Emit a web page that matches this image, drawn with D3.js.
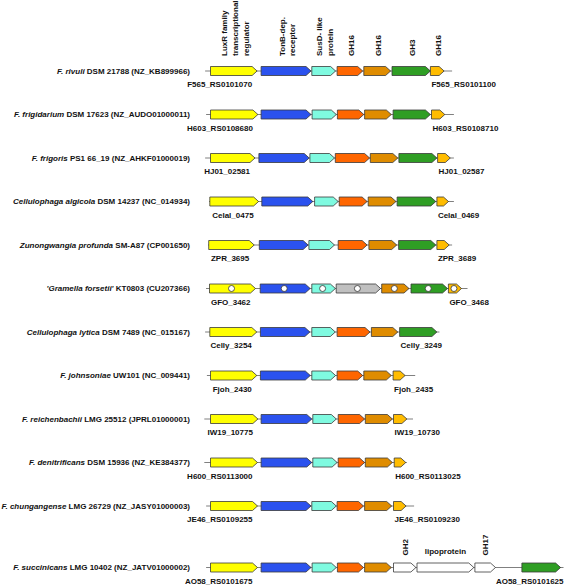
<!DOCTYPE html>
<html><head><meta charset="utf-8">
<script src="https://cdn.jsdelivr.net/npm/d3@7"></script>
<style>
body{margin:0;background:#fff}
svg{display:block}
text{font-family:"Liberation Sans",Arial,Helvetica,sans-serif;font-weight:bold;font-size:8px;fill:#111}
</style>
</head><body>
<svg id="c" width="567" height="587"></svg>
<script>
// ---- data ----
const speciesItalic = ["F. rivuli","F. frigidarium","F. frigoris","Cellulophaga algicola","Zunongwangia profunda","'Gramella forsetii'","Cellulophaga lytica","F. johnsoniae","F. reichenbachii","F. denitrificans","F. chungangense","F. succinicans"];
const speciesRest = [" DSM 21788 (NZ_KB899966)"," DSM 17623 (NZ_AUDO01000011)"," PS1 66_19 (NZ_AHKF01000019)"," DSM 14237 (NC_014934)"," SM-A87 (CP001650)"," KT0803 (CU207366)"," DSM 7489 (NC_015167)"," UW101 (NC_009441)"," LMG 25512 (JPRL01000001)"," DSM 15936 (NZ_KE384377)"," LMG 26729 (NZ_JASY01000003)"," LMG 10402 (NZ_JATV01000002)"];
const leftTags = ["F565_RS0101070","H603_RS0108680","HJ01_02581","Celal_0475","ZPR_3695","GFO_3462","Celly_3254","Fjoh_2430","IW19_10775","H600_RS0113000","JE46_RS0109255","AO58_RS0101675"];
const rightTags = ["F565_RS0101100","H603_RS0108710","HJ01_02587","Celal_0469","ZPR_3689","GFO_3468","Celly_3249","Fjoh_2435","IW19_10730","H600_RS0113025","JE46_RS0109230","AO58_RS0101625"];

// contig line extent per locus (relative position units)
const lineStart = [5.1,6.1,5.1,9,8,6,5.1,6.9,4.3,4.3,6.1,6.1];
const lineEnd   = [252.1,253.9,253.9,253.9,252.1,267.5,239.4,215.2,213,206.9,214.1,363.5];

// gene kinds: L=LuxR regulator, T=TonB-dep. receptor, S=SusD-like, R=GH16 (1), O=GH16 (2), G=GH3, A=GH16 (3), X=grey, W=other (white)
const geneKind = [
  ["L","T","S","R","O","G","A"],
  ["L","T","S","R","O","G","A"],
  ["L","T","S","R","O","G","A"],
  ["L","T","S","R","O","G","A"],
  ["L","T","S","R","O","G","A"],
  ["L","T","S","X","O","G","A"],
  ["L","T","S","R","O","G"],
  ["L","T","S","R","O","A"],
  ["L","T","S","R","O","A"],
  ["L","T","S","R","O","A"],
  ["L","T","S","R","O","A"],
  ["L","T","S","R","O","W","W","W","G"]
];
const geneStart = [
  [10.5,61.1,111.8,137.1,163.8,192,230.4],
  [10.5,61.1,112.1,137.4,164.6,193.1,231.5],
  [10.5,58.9,109.9,135.3,170.3,198.9,237.6],
  [9.8,61.8,114.6,139.2,168.2,197.1,236.9],
  [8.7,59.3,108.9,138.2,168.9,198.6,236.9],
  [9.5,60.2,111.8,136.2,181.7,211,248.4],
  [9.8,60.4,111.8,137.1,171.4,199.6],
  [10.5,60.4,111.8,137.1,163.8,193.1],
  [10.5,61.1,112.8,138.2,165.3,193.5],
  [10.5,61.1,112.8,138.2,165.3,194.2],
  [10.5,61.1,111.8,137.1,164.6,193.5],
  [10.5,61.1,112.1,137.4,164.6,193.5,217,274.9,321.9]
];
const geneEnd = [
  [57.1,111,135.6,162.7,190.6,230.4,244.1],
  [57.9,111,136.3,163.8,191.3,230.4,244.8],
  [55,109.2,134.5,169.6,197.8,236.9,250.3],
  [58.6,112.8,138.2,167.1,196,235.8,248.5],
  [54.2,108.1,134.5,167.1,196.7,235.8,249.2],
  [55.5,110.2,135.4,180.6,209,247.5,261.5],
  [56.8,109.9,135.3,170,197.8,236.9],
  [56.8,110.3,135.6,162.7,191.3,205.1],
  [57.9,111.8,136.3,164.6,192.4,206.9],
  [57.5,111.8,137.1,164.6,192.4,205.8],
  [57.5,111,136.3,163.5,191.7,206.1],
  [57.5,111,136.3,163.5,191.3,215.9,273.8,295.5,360.6]
];
// loci whose genes carry a marker circle
const markedRows = [5];
// annotation labels above the first locus (one entry per gene) and the last locus
const topLabels = [["LuxR family","transcriptional","regulator"],["TonB-dep.","receptor"],["SusD- like","protein"],["GH16"],["GH16"],["GH3"],["GH16"]];
const bottomLabels = [null,null,null,null,null,"GH2","lipoprotein","GH17",null];

const kinds = ["L","T","S","R","O","G","A","X","W"];
const kindColors = ["#ffff00","#2b52ee","#7ffae0","#ff6600","#df8c00","#2f9e24","#ffbc00","#c0c0c0","#ffffff"];

// ---- drawing ----
const svg = d3.select("#c");
const x = d3.scaleLinear().domain([0,367]).range([200,567]);
const y = d3.scaleLinear().domain([0,10]).range([71,506]);
const rowY = i => i < 11 ? y(i) : y(10) + 61.5;
const color = d3.scaleOrdinal().domain(kinds).range(kindColors);
const H = 9;

function arrow(x0,x1,cy){
  const head = Math.min(5,(x1-x0)*0.45);
  return `M${x0},${cy-H/2}L${x1-head},${cy-H/2}L${x1},${cy}L${x1-head},${cy+H/2}L${x0},${cy+H/2}Z`;
}

speciesItalic.forEach((sp,i)=>{
  const cy = rowY(i);
  const g = svg.append("g");
  g.append("line").attr("x1",x(lineStart[i])).attr("x2",x(lineEnd[i]))
    .attr("y1",cy).attr("y2",cy).attr("stroke","#808080").attr("stroke-width",1.2);
  const genes = geneKind[i].map((k,j)=>({k,s:geneStart[i][j],e:geneEnd[i][j]}));
  g.selectAll("path.gene").data(genes).join("path").attr("class","gene")
    .attr("d",d=>arrow(x(d.s),x(d.e),cy))
    .attr("fill",d=>color(d.k)).attr("stroke","#3a3a3a").attr("stroke-width",0.8)
    .attr("stroke-linejoin","miter");
  if (markedRows.includes(i)){
    g.selectAll("circle").data(genes).join("circle")
      .attr("cx",d=>x((d.s+d.e)/2)-1).attr("cy",cy).attr("r",3)
      .attr("fill","#fff").attr("stroke","#333").attr("stroke-width",0.8);
  }
  const t = g.append("text").attr("x",190).attr("y",cy+2.9).attr("text-anchor","end");
  t.append("tspan").attr("font-style","italic").text(sp);
  t.append("tspan").text(speciesRest[i]);
  g.append("text").attr("x",x(geneEnd[i][0])-5).attr("y",cy+16).attr("text-anchor","end").text(leftTags[i]);
  const last = genes.length-1;
  if (i===11){
    g.append("text").attr("x",x(lineEnd[i])).attr("y",cy+16).attr("text-anchor","end").text(rightTags[i]);
  } else {
    g.append("text").attr("x",x(genes[last].s)+1).attr("y",cy+16).attr("text-anchor","start").text(rightTags[i]);
  }
});

// header labels above first locus
{
  const cy = rowY(0);
  topLabels.forEach((lines,j)=>{
    const cx = x((geneStart[0][j]+geneEnd[0][j])/2)+1;
    const n = lines.length;
    lines.forEach((ln,m)=>{
      const lx = cx + (m-(n-1)/2)*10.8 + 2.9;
      svg.append("text").attr("transform",`translate(${lx},${cy-15}) rotate(-90)`)
        .attr("text-anchor","start").text(ln);
    });
  });
}
// labels above last locus
{
  const i = 11, cy = rowY(i);
  bottomLabels.forEach((lb,j)=>{
    if(!lb) return;
    const cx = x((geneStart[i][j]+geneEnd[i][j])/2);
    if (lb.length > 5){
      svg.append("text").attr("x",cx).attr("y",cy-14).attr("text-anchor","middle").text(lb);
    } else {
      svg.append("text").attr("transform",`translate(${cx+2.9},${cy-12}) rotate(-90)`)
        .attr("text-anchor","start").text(lb);
    }
  });
}
</script>
</body></html>
